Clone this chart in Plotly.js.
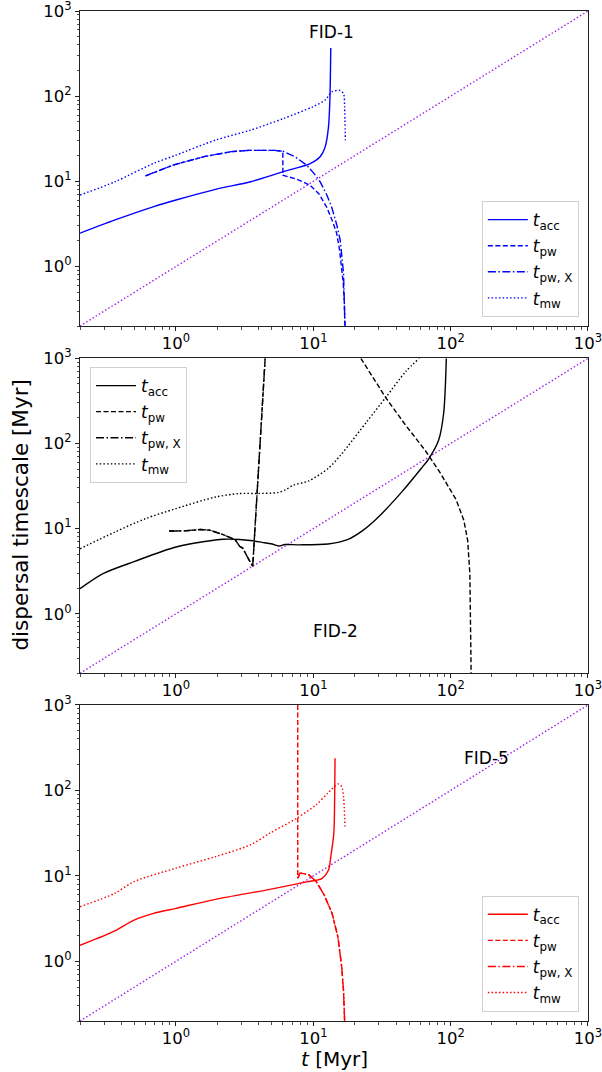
<!DOCTYPE html>
<html>
<head>
<meta charset="utf-8">
<script src="https://cdn.plot.ly/plotly-3.0.1.min.js"></script>
<style>
  html, body { margin: 0; padding: 0; background: #fff; }
  #chart { width: 602px; height: 1072px; }
</style>
</head>
<body>
<div id="chart"></div>
<script>
// ---- FID-1 (blue) ----
const fid1AccT = [0.2, 0.36, 0.69, 1.0, 1.94, 3.5, 6.06, 9.4, 11.2, 12.2, 12.9, 13.2, 13.4];
const fid1AccV = [2.46, 3.52, 5.05, 6.04, 8.06, 9.9, 13.0, 16.0, 19.4, 25.4, 43.6, 89.6, 367];
const fid1PwT  = [0.6, 0.95, 1.6, 2.52, 3.4, 4.3, 5.2, 6.0, 6.0, 7.6, 9.47, 11.0, 12.5, 13.8, 14.8, 15.5, 16.1, 16.5, 16.8, 17.0];
const fid1PwV  = [11.6, 15.5, 19.5, 22.3, 23.1, 23.3, 23.1, 22.6, 11.8, 10.6, 9.0, 7.1, 5.0, 3.4, 2.45, 1.6, 1.0, 0.65, 0.40, 0.2];
const fid1PwXT = [0.6, 0.95, 1.6, 2.52, 3.4, 4.3, 5.2, 6.0, 7.36, 8.95, 10.1, 11.2, 12.5, 13.6, 14.8, 15.7, 16.2, 16.6, 17.0];
const fid1PwXV = [11.6, 15.5, 19.5, 22.3, 23.1, 23.3, 23.1, 22.6, 19.4, 15.5, 12.4, 9.9, 7.0, 5.0, 3.1, 2.04, 1.3, 0.83, 0.2];
const fid1MwT  = [0.2, 0.36, 0.69, 1.0, 1.94, 3.5, 6.06, 9.9, 12.2, 13.6, 15.6, 16.6, 16.9, 17.1];
const fid1MwV  = [6.9, 9.9, 16.3, 20.3, 30.5, 40, 54.7, 75, 90, 112, 117, 107, 75, 30.4];

// ---- FID-2 (black) ----
const fid2AccT = [0.2, 0.294, 0.495, 1.0, 1.94, 2.21, 2.9, 3.49, 4.24, 5.0, 5.6, 6.2, 8.0, 12.8, 17.7, 23.0, 29.8, 44.1, 61, 69.5, 81.7, 88.9, 93];
const fid2AccV = [1.97, 2.96, 4.1, 6.09, 7.35, 7.5, 7.45, 7.25, 6.9, 6.6, 6.25, 6.5, 6.45, 6.6, 7.42, 9.55, 13.7, 27.0, 50.8, 66.6, 109, 225, 1000];
const fid2PwT  = [0.89, 1.15, 1.5, 1.76, 2.21, 2.69, 2.92, 3.06, 3.4, 3.62, 4.46, null, 22.2, 34, 47, 65.1, 84.5, 109.6, 124.8, 133, 138, 141];
const fid2PwV  = [9.39, 9.4, 9.75, 9.6, 8.5, 7.42, 6.15, 5.9, 4.3, 3.6, 1000, null, 1000, 338, 164, 83.5, 44.4, 21.9, 12.5, 7.3, 2.96, 0.2];
const fid2PwXT = [0.89, 1.15, 1.5, 1.76, 2.21, 2.69, 2.92, 3.06, 3.4, 3.62, 4.46];
const fid2PwXV = [9.39, 9.4, 9.75, 9.6, 8.5, 7.42, 6.15, 5.9, 4.3, 3.6, 1000];
const fid2MwT  = [0.2, 0.358, 0.6, 1.0, 1.94, 2.87, 4.0, 5.5, 6.26, 7.13, 9.25, 12.8, 15.7, 17.7, 24.5, 34.0, 47, 59];
const fid2MwV  = [5.8, 9.1, 13.1, 17.2, 23.5, 25.8, 25.9, 26.5, 28.5, 32.3, 36.4, 50.8, 72, 91.4, 180, 354, 697, 1000];

// ---- FID-5 (red) ----
const fid5AccT = [0.2, 0.294, 0.358, 0.495, 0.686, 1.0, 1.94, 4.83, 8.95, 11.5, 12.9, 13.4, 14.1, 14.3, 14.4];
const fid5AccV = [1.54, 1.97, 2.27, 3.03, 3.63, 4.16, 5.31, 6.95, 8.5, 9.3, 11.7, 16.7, 31.4, 80, 238];
const fid5PwT  = [7.7, 7.7, 8.0, 9.25, 10.5, 12.0, 13.7, 15.1, 16.1, 16.6, 16.9];
const fid5PwV  = [1000, 9.36, 10.8, 10.3, 8.56, 5.97, 3.63, 1.93, 0.86, 0.45, 0.2];
// X-ray driven branch follows the photoevaporative decline once it switches on
const fid5PwXT = [7.7, 8.0, 9.25, 10.5, 12.0, 13.7, 15.1, 16.1, 16.6, 16.9];
const fid5PwXV = [9.36, 10.8, 10.3, 8.56, 5.97, 3.63, 1.93, 0.86, 0.45, 0.2];
const fid5MwT  = [0.2, 0.358, 0.495, 1.0, 1.94, 3.49, 4.83, 7.61, 10.5, 12.8, 15.2, 16.1, 16.6, 17.0];
const fid5MwV  = [4.35, 6.24, 8.56, 12.3, 16.8, 23.1, 31.6, 47.5, 68, 93.4, 119, 111, 84, 37.8];

// reference line t_disp = t
const diagT = [0.2, 1000];
const diagV = [0.2, 1000];

// axis ticks
const majorVals = [1, 10, 100, 1000];
const majorText = ['10<sup>0</sup>', '10<sup>1</sup>', '10<sup>2</sup>', '10<sup>3</sup>'];
const minorVals = [];
[0.1, 1, 10, 100].forEach(d => { for (let k = 2; k <= 9; k++) { const v = k * d; if (v >= 0.2 && v <= 1000) minorVals.push(v); } });

const legendNames = ['<i>t</i><sub>acc</sub>', '<i>t</i><sub>pw</sub>', '<i>t</i><sub>pw, X</sub>', '<i>t</i><sub>mw</sub>'];
const dashStyles = ['solid', '5px,2.5px', '8px,2.5px,1.5px,2.5px', '1.5px,2.2px'];
const smoothSeries = [true, false, false, true];
const FONT = 'DejaVu Sans, sans-serif';

function line(x, y, color, dash, name, axisIdx, legendId, showlegend, smooth, group) {
  const s = axisIdx === 1 ? '' : String(axisIdx);
  return {
    x: x, y: y, type: 'scatter', mode: 'lines',
    xaxis: 'x' + s, yaxis: 'y' + s,
    line: { color: color, dash: dash, width: 1.4, shape: smooth ? 'spline' : 'linear', smoothing: 0.8 },
    name: name, legend: legendId, legendgroup: group, showlegend: showlegend,
    hoverinfo: 'skip'
  };
}

function panel(idx, color, legendId, series) {
  const out = [line(diagT, diagV, '#a020f0', '1.5px,2.2px', '', idx, legendId, false, false, 'd' + idx)];
  series.forEach((s, i) => out.push(line(s[0], s[1], color, dashStyles[i], legendNames[i], idx, legendId, true, smoothSeries[i], 'g' + idx + '_' + i)));
  return out;
}

const data = [].concat(
  panel(1, '#0000ff', 'legend', [[fid1AccT, fid1AccV], [fid1PwT, fid1PwV], [fid1PwXT, fid1PwXV], [fid1MwT, fid1MwV]]),
  panel(2, '#000000', 'legend2', [[fid2AccT, fid2AccV], [fid2PwT, fid2PwV], [fid2PwXT, fid2PwXV], [fid2MwT, fid2MwV]]),
  panel(3, '#ff0000', 'legend3', [[fid5AccT, fid5AccV], [fid5PwT, fid5PwV], [fid5PwXT, fid5PwXV], [fid5MwT, fid5MwV]])
);

function logAxis(extra) {
  return Object.assign({
    type: 'log', range: [Math.log10(0.2), 3.0002],
    showgrid: false, zeroline: false,
    showline: true, mirror: true, linecolor: '#222', linewidth: 1,
    ticks: 'outside', ticklen: 4, tickwidth: 1, tickcolor: '#222',
    tickvals: majorVals, ticktext: majorText, ticklabeloverflow: 'allow',
    tickfont: { family: FONT, size: 16.5, color: '#000' },
    minor: { tickvals: minorVals, ticks: 'outside', ticklen: 2.5, tickwidth: 0.8, tickcolor: '#222', showgrid: false }
  }, extra);
}

const legendBase = {
  bgcolor: 'rgba(255,255,255,0.85)', bordercolor: '#d0d0d0', borderwidth: 1,
  font: { family: FONT, size: 17, color: '#000' },
  itemwidth: 40, traceorder: 'grouped', tracegroupgap: 1
};

const domains = [[0.6881, 1.0], [0.3443, 0.6561], [0.0, 0.3129]];

const layout = {
  width: 602, height: 1072,
  margin: { l: 80, r: 14, t: 11, b: 51 },
  paper_bgcolor: '#fff', plot_bgcolor: '#fff',
  font: { family: FONT, color: '#000' },
  xaxis:  logAxis({ anchor: 'y',  domain: [0, 1], ticklabelstandoff: -2 }),
  xaxis2: logAxis({ anchor: 'y2', domain: [0, 1], ticklabelstandoff: -2 }),
  xaxis3: logAxis({ anchor: 'y3', domain: [0, 1], ticklabelstandoff: -2 }),
  yaxis:  logAxis({ anchor: 'x',  domain: domains[0] }),
  yaxis2: logAxis({ anchor: 'x2', domain: domains[1] }),
  yaxis3: logAxis({ anchor: 'x3', domain: domains[2] }),
  legend:  Object.assign({}, legendBase, { x: 0.982, xanchor: 'right', y: 0.697, yanchor: 'bottom' }),
  legend2: Object.assign({}, legendBase, { x: 0.0197, xanchor: 'left', y: 0.6475, yanchor: 'top' }),
  legend3: Object.assign({}, legendBase, { x: 0.982, xanchor: 'right', y: 0.0092, yanchor: 'bottom' }),
  annotations: [
    { text: 'FID-1', xref: 'paper', yref: 'paper', x: 0.496, y: 0.979, xanchor: 'center', yanchor: 'middle', showarrow: false, font: { family: FONT, size: 17 } },
    { text: 'FID-2', xref: 'paper', yref: 'paper', x: 0.502, y: 0.386, xanchor: 'center', yanchor: 'middle', showarrow: false, font: { family: FONT, size: 17 } },
    { text: 'FID-5', xref: 'paper', yref: 'paper', x: 0.800, y: 0.2607, xanchor: 'center', yanchor: 'middle', showarrow: false, font: { family: FONT, size: 17 } },
    { text: 'dispersal timescale [Myr]', xref: 'paper', yref: 'paper', x: -0.118, y: 0.5005, xanchor: 'center', yanchor: 'middle', textangle: -90, showarrow: false, font: { family: FONT, size: 21.5 } },
    { text: '<i>t</i> [Myr]', xref: 'paper', yref: 'paper', x: 0.5, y: -0.05, xanchor: 'center', yanchor: 'bottom', borderpad: 0, showarrow: false, font: { family: FONT, size: 20 } }
  ]
};

Plotly.newPlot('chart', data, layout, { displayModeBar: false, staticPlot: true });
</script>
</body>
</html>
